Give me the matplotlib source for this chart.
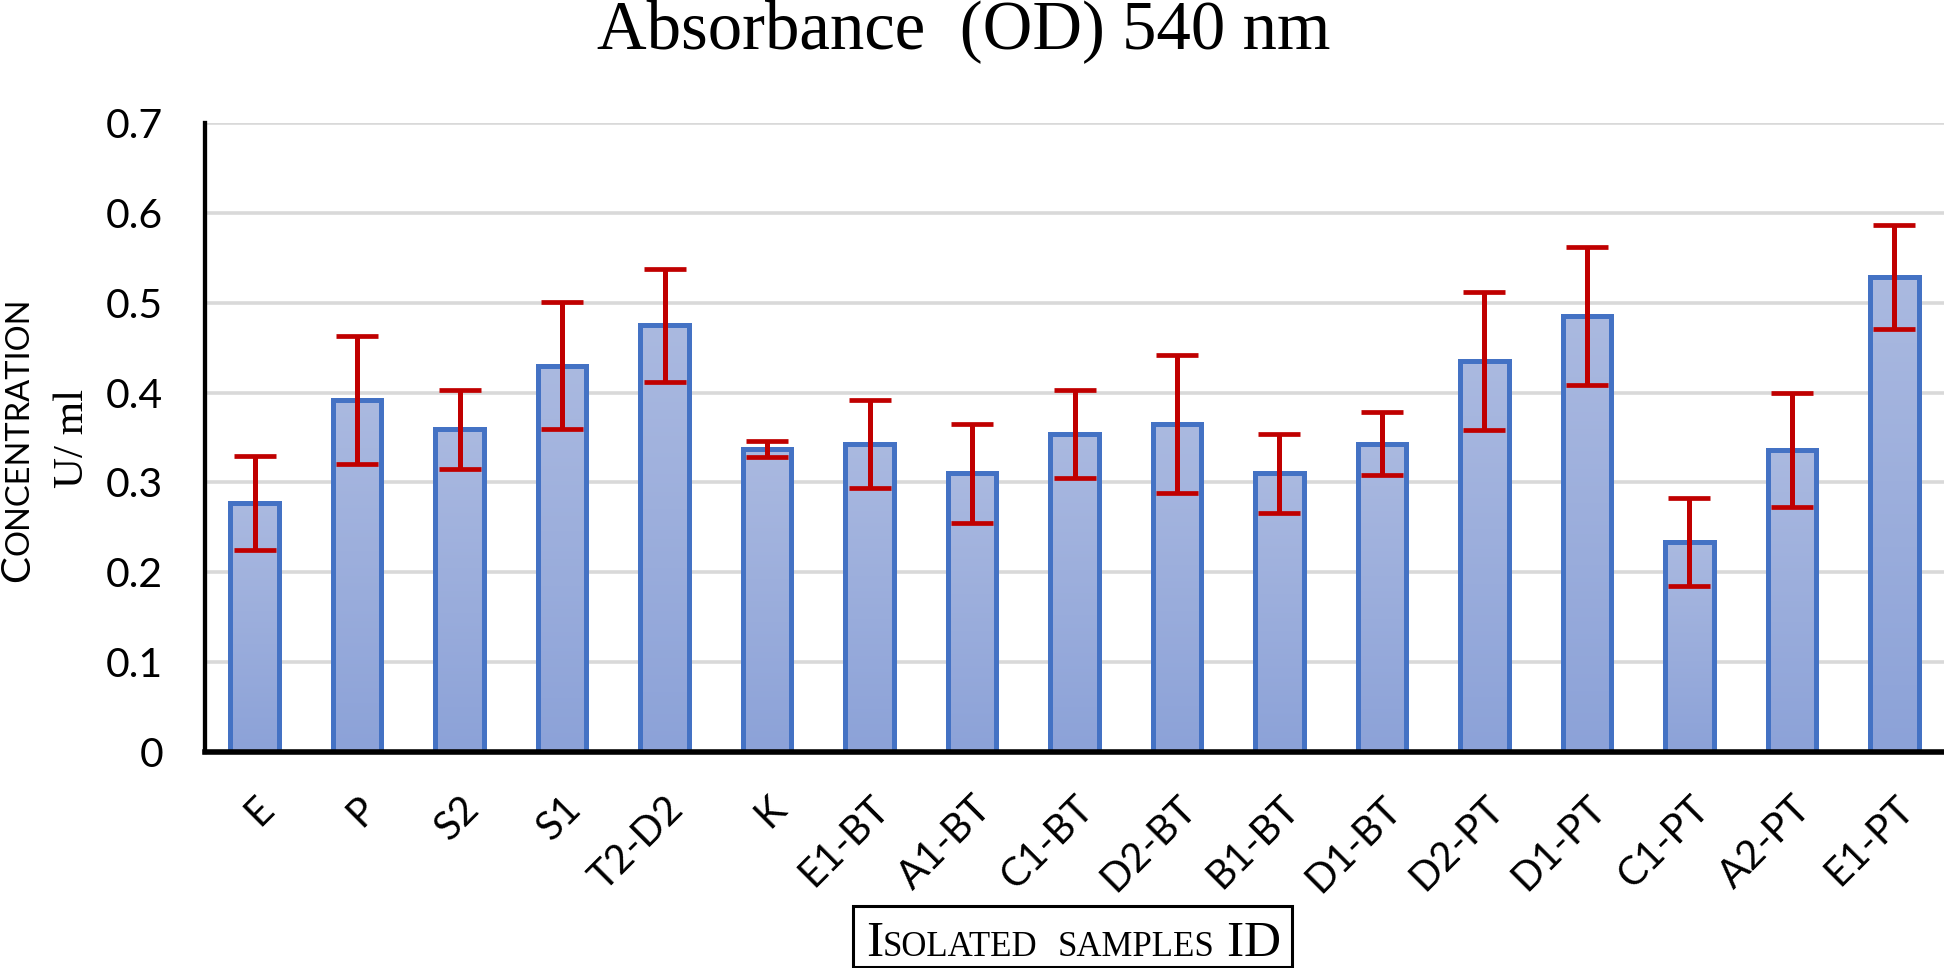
import matplotlib
matplotlib.use('Agg')
import matplotlib.pyplot as plt
import numpy as np
from matplotlib.patches import Rectangle
from matplotlib.transforms import IdentityTransform

# Data
samples = ["E", "P", "S2", "S1", "T2-D2", "K", "E1-BT", "A1-BT", "C1-BT", "D2-BT",
           "B1-BT", "D1-BT", "D2-PT", "D1-PT", "C1-PT", "A2-PT", "E1-PT"]
conc = [0.277, 0.392, 0.359, 0.430, 0.475, 0.337, 0.343, 0.310, 0.354, 0.365,
        0.310, 0.343, 0.435, 0.485, 0.234, 0.336, 0.529]
err = [0.052, 0.071, 0.044, 0.071, 0.063, 0.009, 0.049, 0.055, 0.049, 0.077,
       0.044, 0.035, 0.077, 0.077, 0.049, 0.063, 0.058]
yticks = [0, 0.1, 0.2, 0.3, 0.4, 0.5, 0.6, 0.7]

SANS = "Lato"
SERIF = "Liberation Serif"
W, H = 1944, 968

fig = plt.figure(figsize=(W / 100, H / 100), dpi=100)
ax = fig.add_axes([205 / W, 1 - 752 / H, 1 - 205 / W, (752 - 123) / H])

x = np.arange(len(samples))
bars = ax.bar(x, conc, width=0.47, facecolor="none", edgecolor="#4472C4",
              linewidth=3.6, zorder=3)

# per-bar vertical gradient, light at top
grad = np.linspace(0, 1, 100).reshape(-1, 1)
cmap = matplotlib.colors.LinearSegmentedColormap.from_list("bar", ["#8CA2D8", "#AAB9E0"])
for b in bars:
    x0, w, h = b.get_x(), b.get_width(), b.get_height()
    im = ax.imshow(grad, cmap=cmap, origin="lower", aspect="auto",
                   extent=[x0, x0 + w, 0, h], zorder=2)
    im.set_clip_path(b)

ax.errorbar(x, conc, yerr=err, fmt="none", ecolor="#C00000", elinewidth=3.6,
            capsize=15, capthick=3.4, zorder=4)

ax.set_xlim(-0.483, 16.483)
ax.set_ylim(0, 0.7)
ax.set_yticks(yticks)
ax.set_yticklabels([f"{v:g}" for v in yticks], fontsize=29.5, family=SANS)
ax.grid(axis="y", color="#D9D9D9", linewidth=2.6, zorder=0)
ax.set_axisbelow(True)
ax.tick_params(axis="y", length=0, pad=30)
ax.tick_params(axis="x", length=0, pad=27)
ax.set_xticks(x)
ax.set_xticklabels(samples, fontsize=28.5, family=SANS, rotation=45,
                   ha="right", va="top", rotation_mode="anchor")

for s in ["top", "right"]:
    ax.spines[s].set_visible(False)
ax.spines["left"].set_linewidth(3.1)
ax.spines["bottom"].set_linewidth(4)
ax.spines["left"].set_zorder(5)
ax.spines["bottom"].set_zorder(5)

fig.text(0.4955, 1 - 48 / H, "Absorbance  (OD) 540 nm", family=SERIF,
         fontsize=49.5, ha="center", va="baseline")

renderer = fig.canvas.get_renderer()


def small_caps(pieces, x0, y0, family, rotation=0):
    """pieces: (text, size, gap_px). Returns list of text artists."""
    arts = []
    pos = 0.0
    for txt, size, gap in pieces:
        pos += gap
        if rotation == 0:
            xy = (x0 + pos, y0)
        else:
            xy = (x0, y0 + pos)
        t = fig.text(xy[0], xy[1], txt, family=family, fontsize=size,
                     transform=IdentityTransform(), rotation=rotation,
                     rotation_mode="anchor", ha="left", va="baseline")
        ext = t.get_window_extent(renderer)
        pos += ext.width if rotation == 0 else ext.height
        arts.append(t)
    return arts, pos


# x label: small caps inside a box
xl_pieces = [("I", 37, 0), ("SOLATED", 25, 0), ("SAMPLES", 25, 20),
             ("I", 37, 12), ("D", 37, 0)]
arts, total = small_caps(xl_pieces, 0, 0, SERIF)
cx = 1073
start = cx - total / 2
base_y = H - 956
for t in arts:
    px, _ = t.get_position()
    t.set_position((px + start, base_y))
fig.patches.append(Rectangle((start - 13, H - 967), total + 25, 61,
                             transform=IdentityTransform(), fill=False,
                             edgecolor="black", linewidth=2.2))

# y label: small caps sans, second line serif
yl_pieces = [("C", 29, 0), ("ONCENTRATION", 23.5, 0)]
arts, total = small_caps(yl_pieces, 0, 0, SANS, rotation=90)
for t in arts:
    _, py = t.get_position()
    t.set_position((29, H - 440 - total / 2 + py))
fig.text(83, H - 438, "U/ ml", family=SERIF, fontsize=31, rotation=90,
         rotation_mode="anchor", ha="center", va="baseline",
         transform=IdentityTransform())

fig.savefig("out.png", dpi=100)
